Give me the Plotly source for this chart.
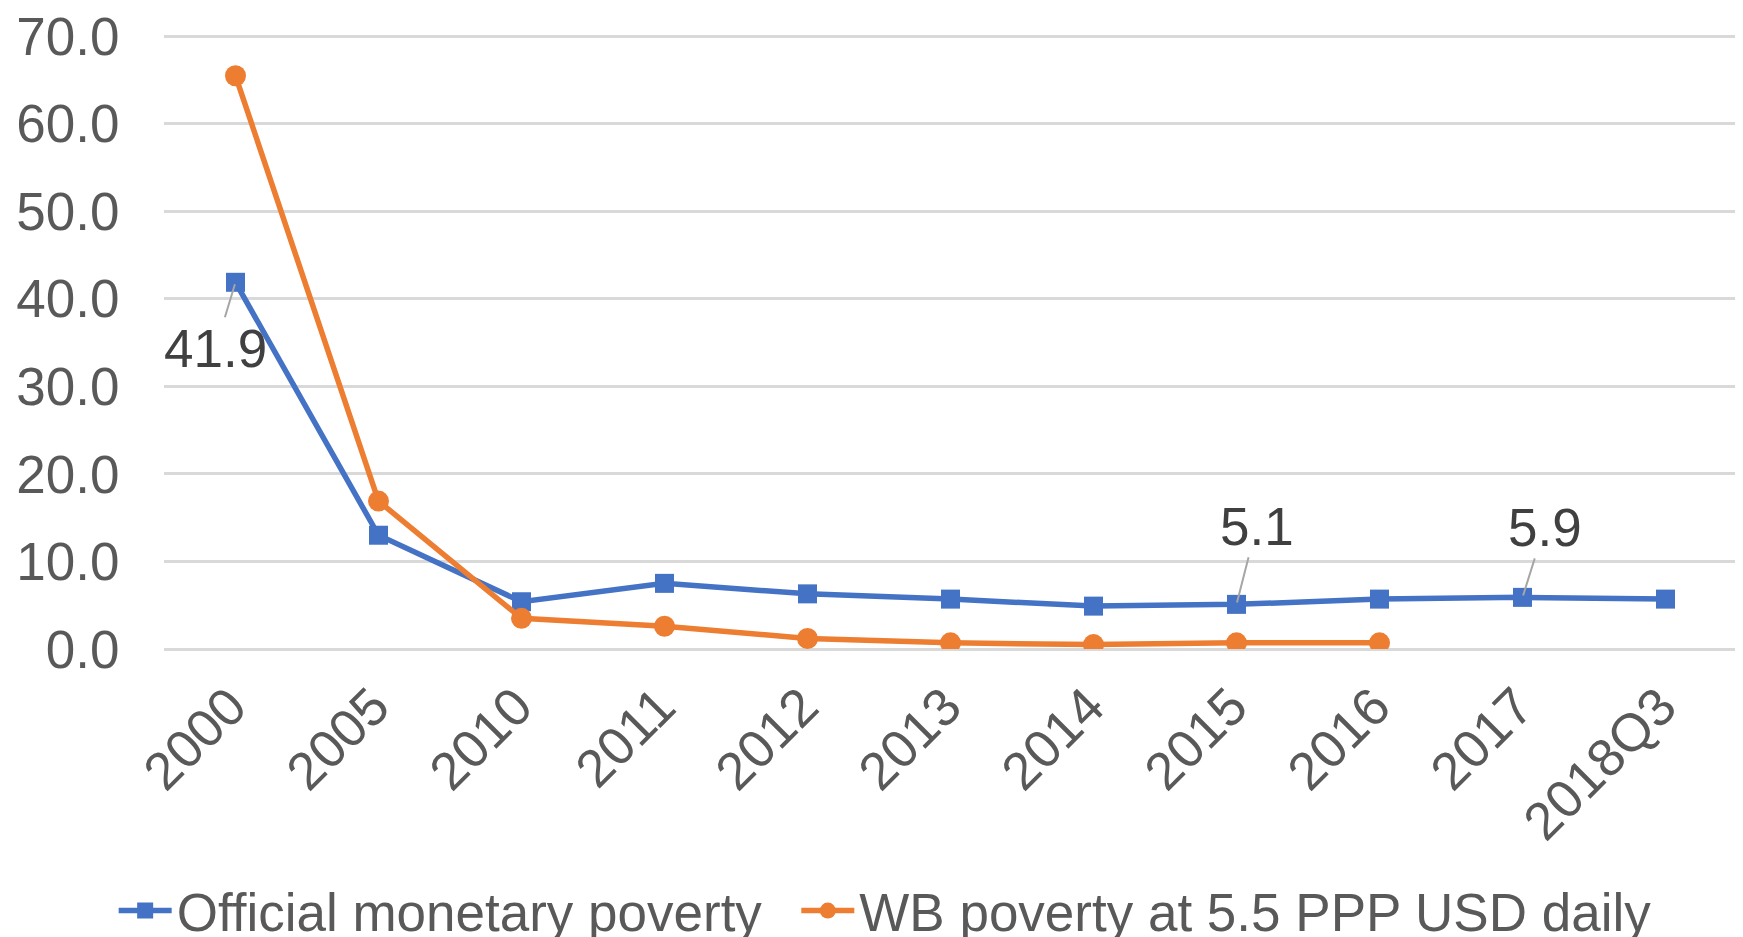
import plotly.graph_objects as go

categories = ['2000', '2005', '2010', '2011', '2012', '2013', '2014',
              '2015', '2016', '2017', '2018Q3']
official = [41.9, 13.0, 5.4, 7.5, 6.3, 5.7, 4.9, 5.1, 5.7, 5.9, 5.7]
wb_poverty = [65.5, 16.9, 3.5, 2.6, 1.2, 0.7, 0.5, 0.7, 0.7, None, None]
y_ticks = [0, 10, 20, 30, 40, 50, 60, 70]

# labelled points: (category index, text, x offset, y offset)
labels = [(0, '41.9', -20, 66), (7, '5.1', 20, -78), (9, '5.9', 22, -70)]

BLUE = '#4472C4'
ORANGE = '#ED7D31'
FONT = 'Liberation Sans, Arial, sans-serif'
SIZE = 53

fig = go.Figure()
fig.add_trace(go.Scatter(
    x=categories, y=official, name='Official monetary poverty\u00a0\u00a0',
    mode='lines+markers', line=dict(color=BLUE, width=5.5),
    marker=dict(symbol='square', size=19, color=BLUE)))
fig.add_trace(go.Scatter(
    x=categories, y=wb_poverty, name='WB poverty at 5.5 PPP USD daily',
    mode='lines+markers', line=dict(color=ORANGE, width=5.5),
    marker=dict(symbol='circle', size=21, color=ORANGE)))

for idx, text, ax, ay in labels:
    # category axis: position annotations by index
    fig.add_annotation(
        x=idx, y=official[idx], text=text,
        showarrow=True, arrowhead=0, arrowwidth=2, arrowcolor='#A6A6A6',
        ax=ax, ay=ay, standoff=2,
        font=dict(family=FONT, size=SIZE, color='#404040'))

# page body adds an 8px offset, so margins are shifted to compensate
fig.update_layout(
    width=1743, height=937,
    paper_bgcolor='white', plot_bgcolor='white',
    margin=dict(l=156, r=14, t=24, b=296, autoexpand=False),
    font=dict(family=FONT, size=SIZE, color='#595959'),
    showlegend=True,
    legend=dict(orientation='h', x=-0.032, xanchor='left', y=-0.424,
                yanchor='middle', font=dict(size=SIZE, color='#595959'),
                itemwidth=53, tracegroupgap=0),
)
fig.update_xaxes(
    type='category', range=[-0.5, 10.5], tickangle=-45, automargin=False,
    showgrid=False, showline=False,
    ticks='outside', ticklen=4, tickcolor='rgba(0,0,0,0)',
    ticklabelshift=-5,
    tickfont=dict(size=SIZE, color='#595959'))
# top of range kept a little above 70 so its gridline is drawn
fig.update_yaxes(
    range=[0, 70.5], tickvals=y_ticks, tickformat='.1f', automargin=False,
    ticklabeloverflow='allow',
    showgrid=True, gridcolor='#D9D9D9', gridwidth=2.5,
    zeroline=True, zerolinecolor='#D9D9D9', zerolinewidth=2.5,
    showline=False, ticks='outside', ticklen=33,
    tickcolor='rgba(0,0,0,0)', tickfont=dict(size=SIZE, color='#595959'))

fig.write_html('out.html')
